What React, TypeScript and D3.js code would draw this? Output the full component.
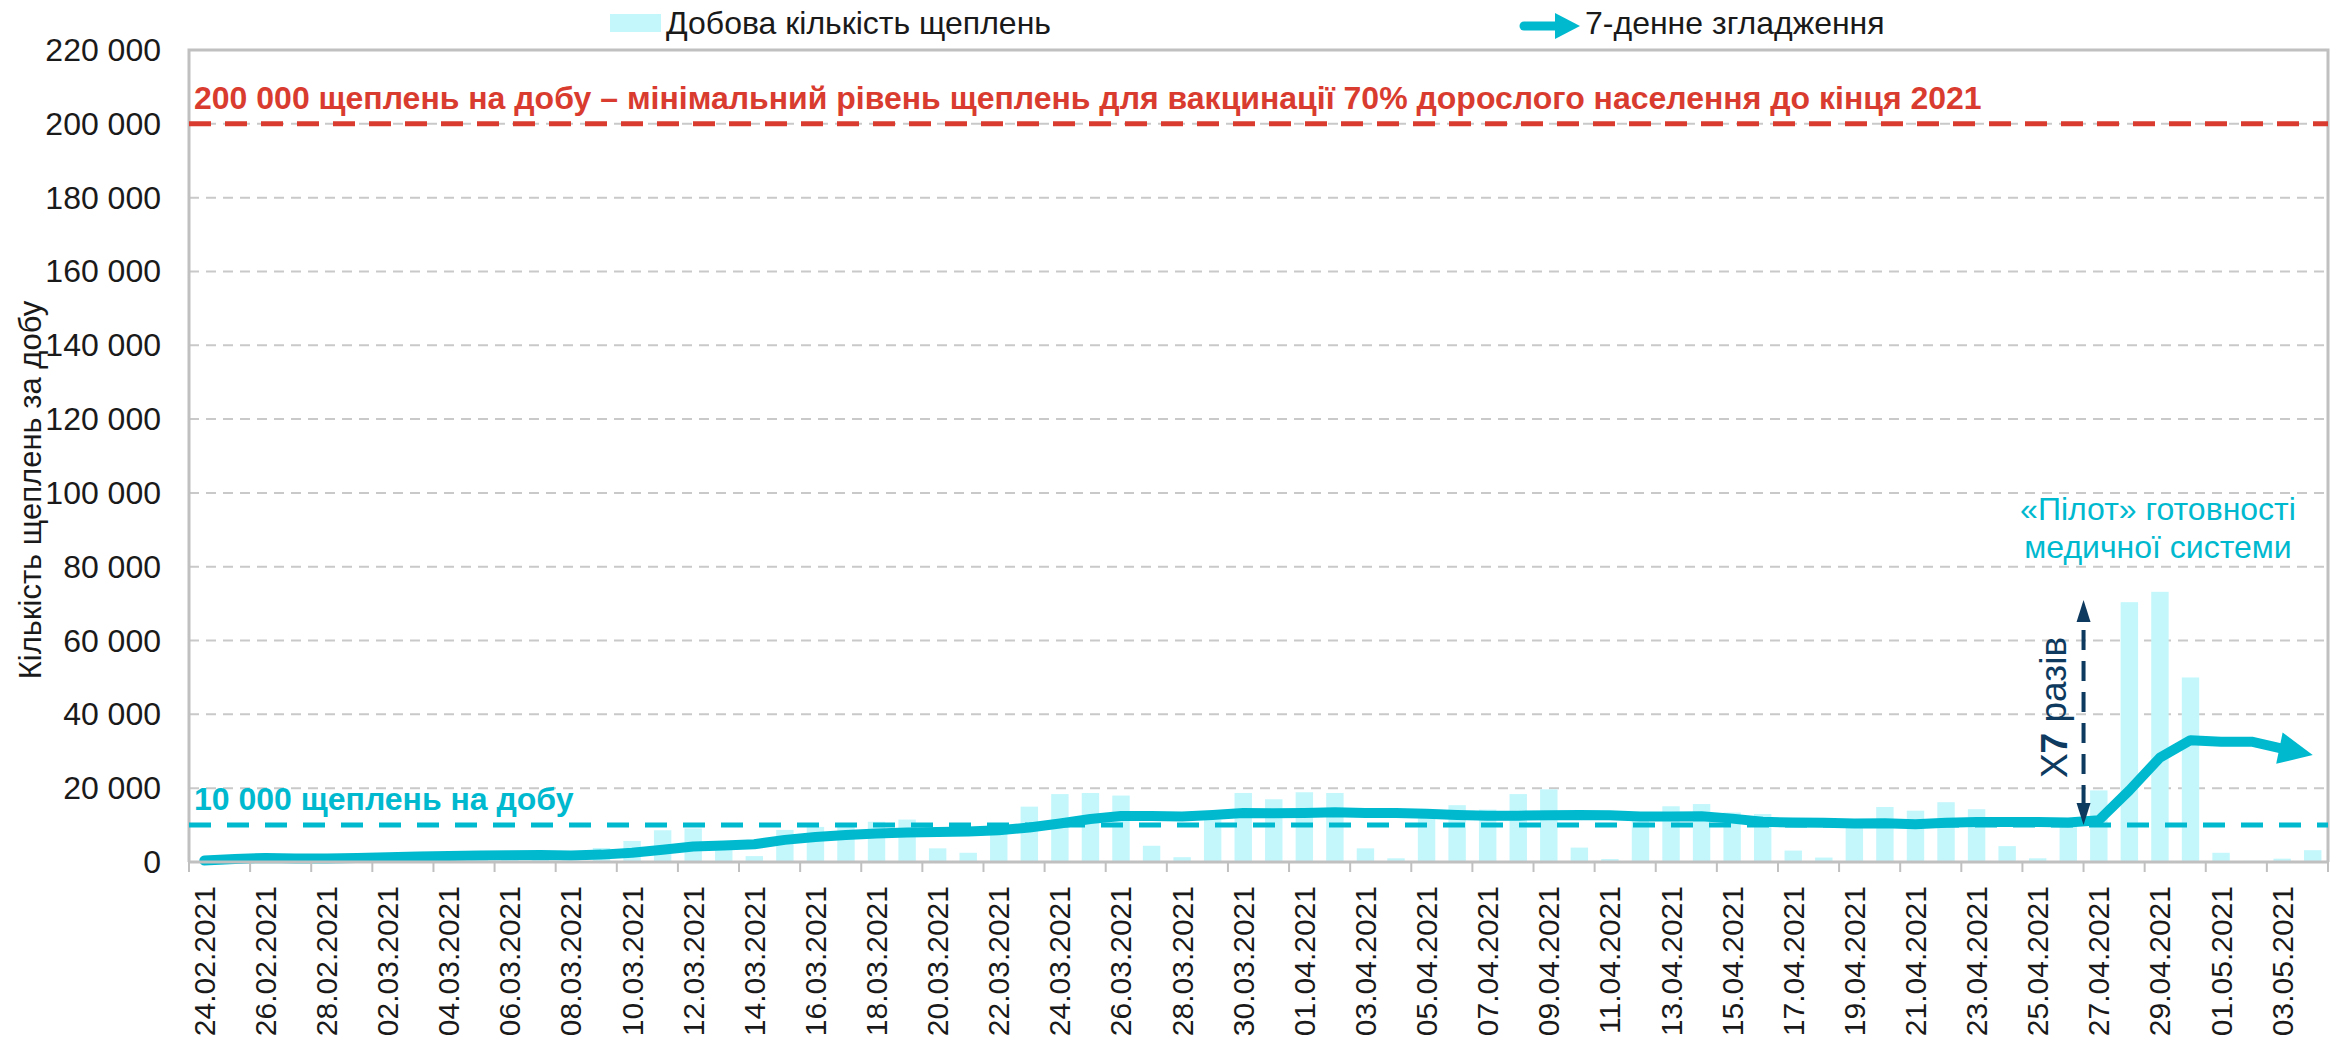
import React from "react";
import * as d3 from "d3";

const dates = [
  "24.02.2021", "25.02.2021", "26.02.2021", "27.02.2021", "28.02.2021",
  "01.03.2021", "02.03.2021", "03.03.2021", "04.03.2021", "05.03.2021",
  "06.03.2021", "07.03.2021", "08.03.2021", "09.03.2021", "10.03.2021",
  "11.03.2021", "12.03.2021", "13.03.2021", "14.03.2021", "15.03.2021",
  "16.03.2021", "17.03.2021", "18.03.2021", "19.03.2021", "20.03.2021",
  "21.03.2021", "22.03.2021", "23.03.2021", "24.03.2021", "25.03.2021",
  "26.03.2021", "27.03.2021", "28.03.2021", "29.03.2021", "30.03.2021",
  "31.03.2021", "01.04.2021", "02.04.2021", "03.04.2021", "04.04.2021",
  "05.04.2021", "06.04.2021", "07.04.2021", "08.04.2021", "09.04.2021",
  "10.04.2021", "11.04.2021", "12.04.2021", "13.04.2021", "14.04.2021",
  "15.04.2021", "16.04.2021", "17.04.2021", "18.04.2021", "19.04.2021",
  "20.04.2021", "21.04.2021", "22.04.2021", "23.04.2021", "24.04.2021",
  "25.04.2021", "26.04.2021", "27.04.2021", "28.04.2021", "29.04.2021",
  "30.04.2021", "01.05.2021", "02.05.2021", "03.05.2021", "04.05.2021",
];

// daily vaccinations
const daily = [
  200, 600, 1100, 1000, 400, 1400, 1700, 2300, 2700, 2800,
  1800, 700, 400, 3800, 5700, 8600, 9100, 5500, 1600, 8700,
  9500, 9500, 10900, 11500, 3700, 2500, 10600, 15000, 18400, 18700,
  18000, 4400, 1300, 11500, 18700, 17000, 18900, 18700, 3700, 1000,
  12500, 15400, 14200, 18400, 19700, 3900, 800, 11500, 15100, 15700,
  13400, 13000, 3100, 1200, 10500, 14900, 13900, 16200, 14300, 4300,
  1000, 11500, 19400, 70400, 73200, 50000, 2500, 300, 900, 3200,
];

// 7-day smoothing
const smooth7 = [
  400, 800, 1100, 950, 950, 1100, 1300, 1500, 1650, 1750,
  1850, 1900, 1750, 2000, 2500, 3300, 4200, 4500, 4800, 6000,
  6800, 7300, 7700, 8000, 8100, 8250, 8600, 9350, 10450, 11650,
  12450, 12450, 12350, 12750, 13300, 13200, 13300, 13450, 13300, 13300,
  13100, 12750, 12550, 12550, 12650, 12750, 12650, 12300, 12300, 12400,
  11750, 10900, 10700, 10650, 10400, 10500, 10200, 10650, 10850, 10850,
  10850, 10700, 11300, 19400, 28300, 33000, 32600, 32600, 30700, 29000,
];

const yTicks = [0, 20000, 40000, 60000, 80000, 100000, 120000, 140000, 160000, 180000, 200000, 220000];

const targetLevel = 200000;
const baseLevel = 10000;
const multStart = 10000;
const multEnd = 71000;

const FONT = "'Liberation Sans', Arial, sans-serif";
const CYAN = "#00b9cf";
const BAR = "#c4f7fc";
const RED = "#d93c2f";
const NAVY = "#0d3a5e";
const GRID = "#c9c9c9";

const fmt = d3.formatLocale({ decimal: ",", thousands: " ", grouping: [3], currency: ["", ""] }).format(",");

export default function App() {
  const W = 2336, H = 1043;
  const L = 189, R = 2328, T = 50, B = 862;

  const x = d3.scaleBand().domain(dates).range([L, R]).paddingInner(0.43).paddingOuter(0.215);
  const y = d3.scaleLinear().domain([0, 220000]).range([B, T]);
  const step = x.step();
  const cx = (d) => x(d) + x.bandwidth() / 2;

  // line, with the last bit shortened for the arrow head
  const pts = dates.map((d, i) => [cx(d), y(smooth7[i])]);
  const n = pts.length;
  const p1 = pts[n - 2], p2 = pts[n - 1];
  const dx = p2[0] - p1[0], dy = p2[1] - p1[1];
  const len = Math.hypot(dx, dy);
  const ux = dx / len, uy = dy / len;
  const headLen = 34, headW = 32;
  const linePts = pts.slice(0, n - 1).concat([[p2[0] - ux * (headLen - 6), p2[1] - uy * (headLen - 6)]]);
  const lineGen = d3.line();
  const bx = p2[0] - ux * headLen, by = p2[1] - uy * headLen;
  const head = [
    [p2[0], p2[1]],
    [bx - uy * headW / 2, by + ux * headW / 2],
    [bx + uy * headW / 2, by - ux * headW / 2],
  ];

  // tick marks at every second category boundary
  const tickXs = d3.range(0, dates.length + 1, 2).map((k) => L + k * step);

  // x7 arrow
  const ax = L + 62 * step;
  const ay1 = y(multStart), ay2 = y(multEnd);

  return (
    <svg width={W} height={H} style={{ position: "absolute", left: 0, top: 0, background: "#fff" }} fontFamily={FONT}>
      {/* gridlines */}
      {yTicks.filter((t) => t > 0 && t < 220000).map((t) => (
        <line key={t} x1={L} x2={R} y1={y(t)} y2={y(t)} stroke={GRID} strokeWidth={2} strokeDasharray="10,7" />
      ))}
      {/* plot border */}
      <path d={`M${L},${B}V${T}H${R}V${B}`} fill="none" stroke="#c0c0c0" strokeWidth={3} />

      {/* bars */}
      {dates.map((d, i) => (
        <rect key={d} x={x(d)} y={y(daily[i])} width={x.bandwidth()} height={B - y(daily[i])} fill={BAR} />
      ))}

      {/* reference lines */}
      <line x1={L} x2={R} y1={y(targetLevel)} y2={y(targetLevel)} stroke={RED} strokeWidth={5} strokeDasharray="22,14" />
      <line x1={L} x2={R} y1={y(baseLevel)} y2={y(baseLevel)} stroke={CYAN} strokeWidth={5} strokeDasharray="22,16" />

      {/* 7-day line */}
      <path d={lineGen(linePts)} fill="none" stroke={CYAN} strokeWidth={10} strokeLinejoin="round" strokeLinecap="round" />
      <polygon points={head.map((p) => p.join(",")).join(" ")} fill={CYAN} />

      {/* x axis */}
      <line x1={L} x2={R} y1={B} y2={B} stroke="#c0c0c0" strokeWidth={3} />
      {tickXs.map((t, i) => (
        <line key={i} x1={t} x2={t} y1={B} y2={B + 10} stroke="#c0c0c0" strokeWidth={2} />
      ))}
      {dates.map((d, i) => i % 2 === 0 ? (
        <text key={d} transform={`translate(${cx(d)},${B + 24}) rotate(-90)`} textAnchor="end" dominantBaseline="central" fontSize={30} fill="#1a1a1a">{d}</text>
      ) : null)}

      {/* y axis labels */}
      {yTicks.map((t) => (
        <text key={t} x={161} y={y(t)} textAnchor="end" dominantBaseline="central" fontSize={32} fill="#1a1a1a">{fmt(t)}</text>
      ))}
      <text transform={`translate(30,490) rotate(-90)`} textAnchor="middle" dominantBaseline="central" fontSize={31} fill="#1a1a1a">Кількість щеплень за добу</text>

      {/* annotations */}
      <text x={194} y={y(targetLevel) - 15} fontSize={32} fontWeight="bold" fill={RED}>200 000 щеплень на добу – мінімальний рівень щеплень для вакцинації 70% дорослого населення до кінця 2021</text>
      <text x={194} y={y(baseLevel) - 15} fontSize={32} fontWeight="bold" fill={CYAN}>10 000 щеплень на добу</text>
      <text x={2158} y={520} textAnchor="middle" fontSize={32} fill={CYAN}>«Пілот» готовності</text>
      <text x={2158} y={558} textAnchor="middle" fontSize={32} fill={CYAN}>медичної системи</text>

      <line x1={ax} x2={ax} y1={ay1 - 20} y2={ay2 + 20} stroke={NAVY} strokeWidth={4} strokeDasharray="20,11" />
      <polygon points={`${ax},${ay1} ${ax - 7},${ay1 - 22} ${ax + 7},${ay1 - 22}`} fill={NAVY} />
      <polygon points={`${ax},${ay2} ${ax - 7},${ay2 + 22} ${ax + 7},${ay2 + 22}`} fill={NAVY} />
      <text transform={`translate(${ax - 30},${(ay1 + ay2) / 2 - 5}) rotate(-90)`} textAnchor="middle" dominantBaseline="central" fontSize={37} fill={NAVY}>
        <tspan fontWeight="normal">X</tspan><tspan fontWeight="bold">7</tspan> разів
      </text>

      {/* legend */}
      <rect x={610} y={14} width={51} height={18} fill={BAR} />
      <text x={666} y={34} fontSize={32} fill="#1a1a1a">Добова кількість щеплень</text>
      <line x1={1524} x2={1558} y1={26} y2={26} stroke={CYAN} strokeWidth={9} strokeLinecap="round" />
      <polygon points="1555,13 1580,26 1555,39" fill={CYAN} />
      <text x={1585} y={34} fontSize={32} fill="#1a1a1a">7-денне згладження</text>
    </svg>
  );
}
